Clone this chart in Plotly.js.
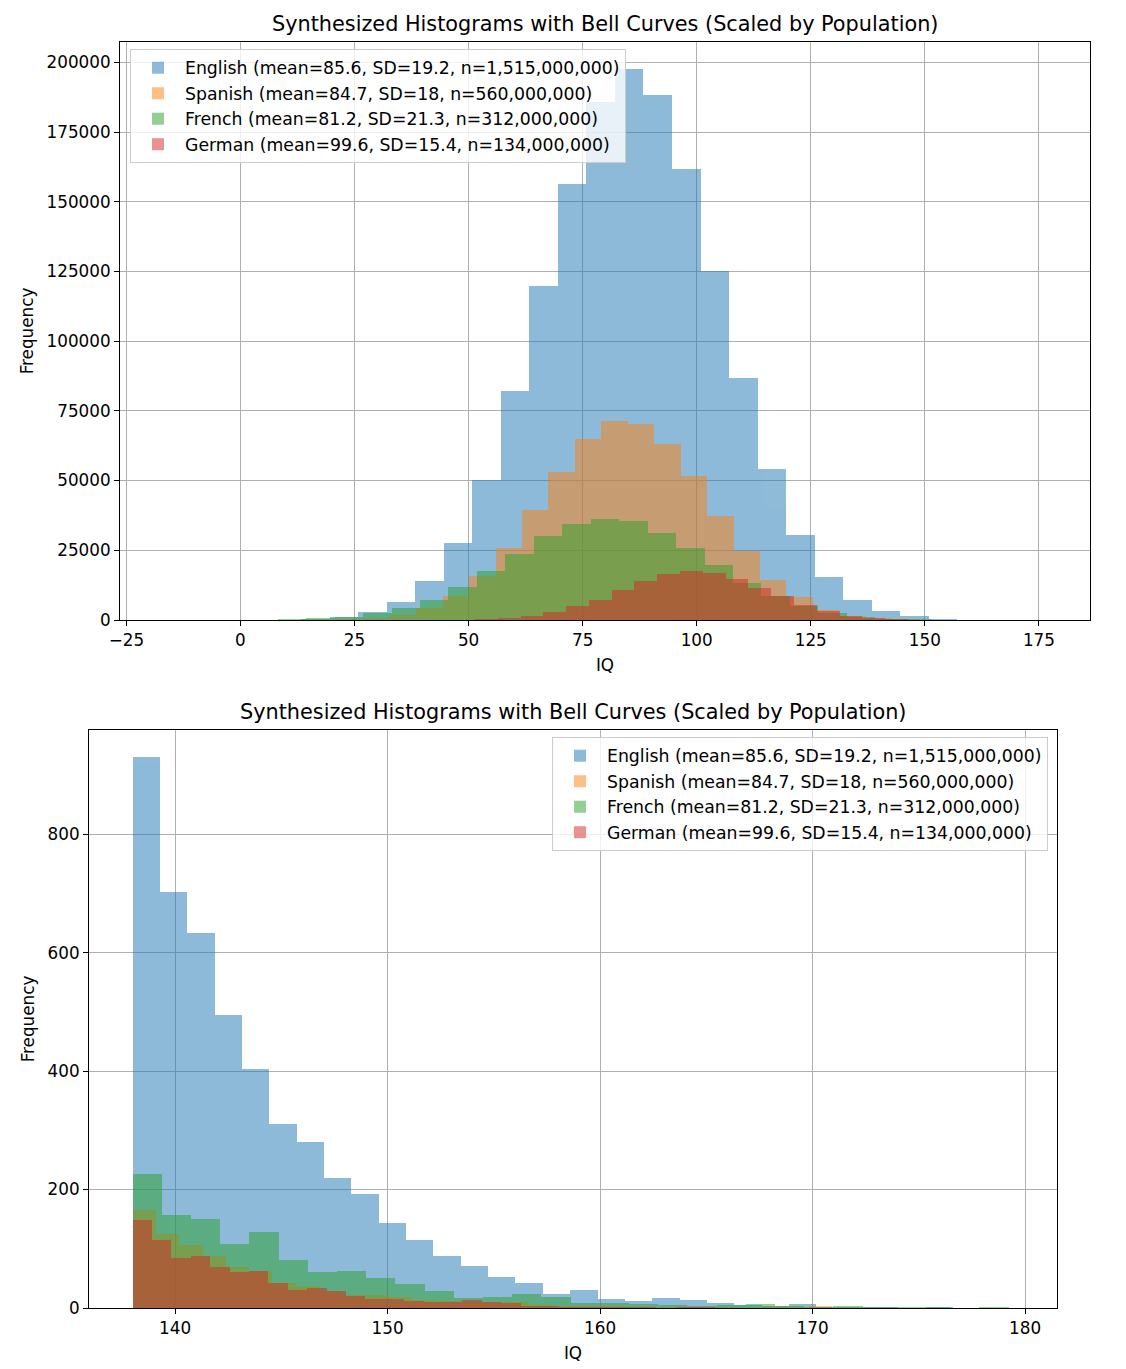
<!DOCTYPE html>
<html>
<head>
<meta charset="utf-8">
<script src="https://cdn.plot.ly/plotly-3.0.1.min.js"></script>
<style>
  html, body { margin: 0; padding: 0; background: #fff; }
  #chart { width: 1126px; height: 1369px; }
</style>
</head>
<body>
<div id="chart"></div>
<script>
// languages and their stats (legend labels)
const languages = ['English', 'Spanish', 'French', 'German']
const means = [85.6, 84.7, 81.2, 99.6]
const sds = [19.2, 18, 21.3, 15.4]
const populations = [1515000000, 560000000, 312000000, 134000000]
const colors = ['#1f77b4', '#ff7f0e', '#2ca02c', '#d62728']

// top histogram: first bin edge and bin width per language
const topBinStart = [-11.7, -2.02, -16.78, 26.4]
const topBinWidth = [6.252, 5.794, 6.237, 4.997]

const enTopCounts = [3, 10, 30, 100, 400, 1070, 2700, 6300, 13900, 27700,
    50200, 82000, 119800, 156300, 185800, 197500, 188400, 161900, 125000, 86900,
    54100, 30500, 15600, 7100, 3300, 1300, 500, 150, 40, 10]
const esTopCounts = [3, 10, 30, 90, 300, 800, 1900, 4300, 8600, 15700,
    25900, 39400, 53100, 65000, 71300, 70300, 63300, 51500, 37200, 24800,
    14500, 8100, 3700, 1500, 600, 200, 70, 20, 5, 2]
const frTopCounts = [3, 10, 40, 130, 400, 750, 1200, 2400, 4200, 7100,
    11800, 17500, 23500, 30000, 34300, 36200, 35400, 31300, 25900, 19600,
    13400, 8700, 4900, 2600, 1200, 500, 200, 80, 20, 5]
const deTopCounts = [2, 5, 15, 40, 100, 220, 550, 1300, 2700, 4900,
    7000, 10900, 13900, 16600, 17500, 16800, 14600, 11500, 8500, 5500,
    3100, 1600, 800, 350, 150, 60, 20, 8, 3, 1]

// bottom histogram: tail (IQ >= 138)
const tailBinStart = [138.0, 138.0, 138.0, 138.0]
const tailBinWidth = [1.287, 1.097, 1.374, 0.913]

const enTailCounts = [930, 702, 634, 495, 404, 310, 281, 220, 192, 143,
    114, 88, 71, 52, 43, 23, 30, 15, 11, 17,
    13, 9, 5, 4, 7, 2, 1, 2, 0, 2]
const esTailCounts = [166, 125, 106, 87, 70, 62, 42, 37, 29, 22,
    22, 19, 14, 12, 11, 10, 10, 5, 4, 3,
    3, 2, 2, 1, 1, 1, 0, 1, 1, 3]
const frTailCounts = [226, 157, 150, 108, 129, 81, 60, 62, 51, 41,
    28, 17, 19, 24, 19, 9, 8, 6, 5, 4,
    5, 7, 3, 2, 3, 1, 1, 1, 0, 2]
const deTailCounts = [148, 115, 85, 87, 69, 60, 62, 43, 30, 34,
    29, 20, 16, 15, 11, 10, 10, 13, 10, 9,
    3, 3, 2, 2, 1, 1, 1, 0, 1, 1]

const topCounts = [enTopCounts, esTopCounts, frTopCounts, deTopCounts]
const tailCounts = [enTailCounts, esTailCounts, frTailCounts, deTailCounts]

const FONT = 'DejaVu Sans, Verdana, sans-serif'

function label(i) {
    return `${languages[i]} (mean=${means[i]}, SD=${sds[i]}, n=${populations[i].toLocaleString('en-US')})`
}

function histTrace(i, start, width, counts, xa, ya, legend) {
    return {
        type: 'bar',
        name: label(i),
        x: counts.map((_, k) => start + width * (k + 0.5)),
        y: counts,
        width: width,
        marker: { color: colors[i], line: { width: 0 } },
        opacity: 0.5,
        xaxis: xa,
        yaxis: ya,
        legend: legend,
        legendgroup: legend + i,
    }
}

const traces = []
languages.forEach((_, i) => {
    traces.push(histTrace(i, topBinStart[i], topBinWidth[i], topCounts[i], 'x', 'y', 'legend'))
})
languages.forEach((_, i) => {
    traces.push(histTrace(i, tailBinStart[i], tailBinWidth[i], tailCounts[i], 'x2', 'y2', 'legend2'))
})

const H = 1369, W = 1126
const axisCommon = {
    showgrid: true,
    gridcolor: '#b0b0b0',
    gridwidth: 1,
    zeroline: false,
    showline: true,
    linecolor: '#000',
    linewidth: 1,
    mirror: true,
    ticks: 'outside',
    ticklen: 5,
    tickcolor: '#000',
    tickfont: { family: FONT, size: 16.8, color: '#000' },
}
const legendCommon = {
    bgcolor: 'rgba(255,255,255,0.8)',
    bordercolor: '#cccccc',
    borderwidth: 1,
    font: { family: FONT, size: 17.3, color: '#000' },
    traceorder: 'grouped',
    tracegroupgap: 0,
    itemwidth: 44,
}
const axisTitleFont = { family: FONT, size: 16.8, color: '#000' }

const layout = {
    width: W,
    height: H,
    margin: { l: 0, r: 0, t: 0, b: 0 },
    paper_bgcolor: '#fff',
    plot_bgcolor: '#fff',
    barmode: 'overlay',
    bargap: 0,
    showlegend: true,
    font: { family: FONT, color: '#000' },
    xaxis: Object.assign({}, axisCommon, {
        domain: [120 / W, 1090 / W], anchor: 'y',
        range: [-26.4, 186.2], tickvals: [-25, 0, 25, 50, 75, 100, 125, 150, 175],
        title: { text: 'IQ', font: axisTitleFont, standoff: 10 },
    }),
    yaxis: Object.assign({}, axisCommon, {
        domain: [1 - 620 / H, 1 - 42 / H], anchor: 'x',
        range: [0, 207300], dtick: 25000, tickformat: 'd',
        title: { text: 'Frequency', font: axisTitleFont, standoff: 8 },
    }),
    xaxis2: Object.assign({}, axisCommon, {
        domain: [89 / W, 1057 / W], anchor: 'y2',
        range: [135.95, 181.5], dtick: 10,
        title: { text: 'IQ', font: axisTitleFont, standoff: 10 },
    }),
    yaxis2: Object.assign({}, axisCommon, {
        domain: [1 - 1308 / H, 1 - 730 / H], anchor: 'x2',
        range: [0, 976], dtick: 200,
        title: { text: 'Frequency', font: axisTitleFont, standoff: 8 },
    }),
    legend: Object.assign({}, legendCommon, {
        x: 130 / W, y: 1 - 49 / H, xanchor: 'left', yanchor: 'top',
    }),
    legend2: Object.assign({}, legendCommon, {
        x: 1048 / W, y: 1 - 737 / H, xanchor: 'right', yanchor: 'top',
    }),
    annotations: [
        {
            text: 'Synthesized Histograms with Bell Curves (Scaled by Population)',
            xref: 'paper', yref: 'paper', x: 605 / W, y: 1 - 24 / H,
            xanchor: 'center', yanchor: 'middle', showarrow: false,
            font: { family: FONT, size: 20.8, color: '#000' },
        },
        {
            text: 'Synthesized Histograms with Bell Curves (Scaled by Population)',
            xref: 'paper', yref: 'paper', x: 573 / W, y: 1 - 712 / H,
            xanchor: 'center', yanchor: 'middle', showarrow: false,
            font: { family: FONT, size: 20.8, color: '#000' },
        },
    ],
}

Plotly.newPlot('chart', traces, layout, { displayModeBar: false, staticPlot: true })
</script>
</body>
</html>
